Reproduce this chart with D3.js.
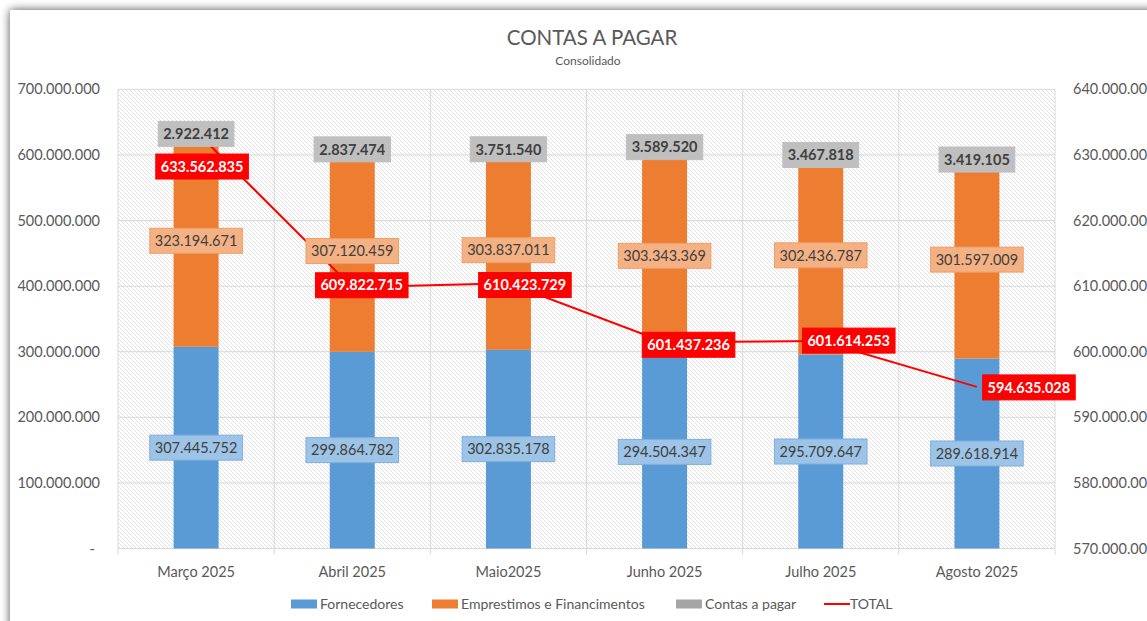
<!DOCTYPE html>
<html>
<head>
<meta charset="utf-8">
<script src="https://cdn.jsdelivr.net/npm/d3@7"></script>
<style>
  body { margin: 0; background: #fff; }
  text { font-family: Lato, "Open Sans", sans-serif; }
</style>
</head>
<body>
<script>

// dados
var categorias = ["Março 2025", "Abril 2025", "Maio2025", "Junho 2025", "Julho 2025", "Agosto 2025"];
var fornecedores = [307445752, 299864782, 302835178, 294504347, 295709647, 289618914];
var emprestimos = [323194671, 307120459, 303837011, 303343369, 302436787, 301597009];
var contasPagar = [2922412, 2837474, 3751540, 3589520, 3467818, 3419105];
var total = [633562835, 609822715, 610423729, 601437236, 601614253, 594635028];

var series = [
  { nome: "Fornecedores", valores: fornecedores, cor: "#5B9BD5", caixa: "#9DC3E6", borda: "#7FAEDC", bold: false },
  { nome: "Emprestimos e Financimentos", valores: emprestimos, cor: "#ED7D31", caixa: "#F4B183", borda: "#EE9E6C", bold: false },
  { nome: "Contas a pagar", valores: contasPagar, cor: "#A5A5A5", caixa: "#BFBFBF", borda: "#BFBFBF", bold: true }
];

// ajustes manuais dos rotulos (como no excel)
var totalLabelOffset = [[6, 35], [9.5, -2], [16.5, 1.7], [24, 2.5], [28, -0.5], [52, 0.5]];
var contasLabelDy = [0, 0, 0, -8, 0, 0];

var width = 1147,
    height = 621;
var pLeft = 118, pRight = 1055, pTop = 89.3, pBottom = 548.5;
var fs = 14.5;

var pt = d3.formatLocale({ decimal: ",", thousands: ".", grouping: [3], currency: ["R$", ""] });
var fmt = function(v) { return v === 0 ? "-" : pt.format(",d")(v); };

var svg = d3.select("body").append("svg")
    .attr("width", width)
    .attr("height", height);

var defs = svg.append("defs");
var filt = defs.append("filter").attr("id", "sombra")
    .attr("x", "-5%").attr("y", "-5%").attr("width", "110%").attr("height", "110%");
filt.append("feDropShadow").attr("dx", 0).attr("dy", 0)
    .attr("stdDeviation", 5).attr("flood-color", "#000").attr("flood-opacity", 0.7);

var pat = defs.append("pattern").attr("id", "hachura")
    .attr("patternUnits", "userSpaceOnUse")
    .attr("width", 4).attr("height", 4);
pat.append("rect").attr("width", 4).attr("height", 4).attr("fill", "#fff");
pat.append("path").attr("d", "M0,0L4,4M-1,3L1,5M3,-1L5,1")
    .attr("stroke", "#dcdcdc").attr("stroke-width", 0.8);

// cartao
svg.append("rect")
    .attr("x", 10).attr("y", 10)
    .attr("width", 1300).attr("height", 700)
    .attr("fill", "#fff")
    .attr("filter", "url(#sombra)");

// titulo
svg.append("text")
    .attr("x", 592).attr("y", 45)
    .attr("text-anchor", "middle")
    .attr("font-size", 20.5)
    .attr("fill", "#595959")
    .text("CONTAS A PAGAR");
svg.append("text")
    .attr("x", 588).attr("y", 65)
    .attr("text-anchor", "middle")
    .attr("font-size", 12)
    .attr("fill", "#595959")
    .text("Consolidado");

// escalas
var x = d3.scaleBand()
    .domain(categorias)
    .range([pLeft, pRight])
    .paddingInner(0.712)
    .paddingOuter(0.356);

var y = d3.scaleLinear().domain([0, 700000000]).range([pBottom, pTop]);
var y2 = d3.scaleLinear().domain([570000000, 640000000]).range([pBottom, pTop]);

// fundo da area de plotagem
svg.append("rect")
    .attr("x", pLeft).attr("y", pTop)
    .attr("width", pRight - pLeft).attr("height", pBottom - pTop)
    .attr("fill", "url(#hachura)");

// grade
svg.append("g").selectAll("line")
  .data(y.ticks(7))
  .enter().append("line")
    .attr("x1", pLeft).attr("x2", pRight)
    .attr("y1", function(d) { return y(d); })
    .attr("y2", function(d) { return y(d); })
    .attr("stroke", "#d9d9d9").attr("stroke-width", 1);

var bordas = categorias.map(function(c) { return x(c) - x.step() * x.paddingInner() / 2; });
bordas.push(pRight);
svg.append("g").selectAll("line")
  .data(bordas)
  .enter().append("line")
    .attr("x1", function(d) { return d; }).attr("x2", function(d) { return d; })
    .attr("y1", pTop).attr("y2", pBottom + 6)
    .attr("stroke", "#d9d9d9").attr("stroke-width", 1);

// eixos
var eixoY = svg.append("g")
    .attr("transform", "translate(" + pLeft + ",0)")
    .call(d3.axisLeft(y).ticks(7).tickFormat(fmt).tickSize(0).tickPadding(18));
eixoY.select(".domain").remove();
eixoY.selectAll("text").attr("font-size", fs).attr("fill", "#595959")
    .attr("font-family", "Lato, sans-serif")
    .attr("x", function(d) { return d === 0 ? -23 : -18; });

var eixoY2 = svg.append("g")
    .attr("transform", "translate(" + pRight + ",0)")
    .call(d3.axisRight(y2).ticks(7).tickFormat(fmt).tickSize(0).tickPadding(18));
eixoY2.select(".domain").remove();
eixoY2.selectAll("text").attr("font-size", fs).attr("fill", "#595959")
    .attr("font-family", "Lato, sans-serif");

var eixoX = svg.append("g")
    .attr("transform", "translate(0," + pBottom + ")")
    .call(d3.axisBottom(x).tickSize(0).tickPadding(18.5));
eixoX.select(".domain").attr("stroke", "#d9d9d9").attr("d", "M" + pLeft + ",0H" + pRight);
eixoX.selectAll("text").attr("font-size", fs).attr("fill", "#595959")
    .attr("font-family", "Lato, sans-serif");

// barras empilhadas
var linhas = categorias.map(function(c, i) {
  return { cat: c, f: fornecedores[i], e: emprestimos[i], c: contasPagar[i] };
});
var stack = d3.stack().keys(["f", "e", "c"])(linhas);

var camadas = svg.append("g").selectAll("g")
  .data(stack)
  .enter().append("g")
    .attr("fill", function(d, i) { return series[i].cor; });

camadas.selectAll("rect")
  .data(function(d) { return d; })
  .enter().append("rect")
    .attr("x", function(d) { return x(d.data.cat); })
    .attr("width", x.bandwidth())
    .attr("y", function(d) { return y(d[1]); })
    .attr("height", function(d) { return y(d[0]) - y(d[1]); });

// linha do total
var linha = d3.line()
    .x(function(d, i) { return x(categorias[i]) + x.bandwidth() / 2; })
    .y(function(d) { return y2(d); });

svg.append("path")
    .datum(total)
    .attr("d", linha)
    .attr("fill", "none")
    .attr("stroke", "#FF0000")
    .attr("stroke-width", 2);

// rotulos
function rotulo(g, cx, cy, texto, fundo, borda, cor, bold) {
  var t = g.append("text")
      .attr("x", cx).attr("y", cy)
      .attr("dy", "0.36em")
      .attr("text-anchor", "middle")
      .attr("font-size", fs)
      .attr("font-weight", bold ? "bold" : "normal")
      .attr("fill", cor)
      .text(texto);
  var bb = t.node().getBBox();
  g.insert("rect", "text")
      .attr("x", cx - bb.width / 2 - 5)
      .attr("y", cy - 12.5)
      .attr("width", bb.width + 10)
      .attr("height", 25)
      .attr("fill", fundo)
      .attr("stroke", borda)
      .attr("stroke-width", 1);
}

var gRot = svg.append("g");
stack.forEach(function(camada, k) {
  var s = series[k];
  camada.forEach(function(d, i) {
    var cx = x(d.data.cat) + x.bandwidth() / 2;
    var cy = (y(d[0]) + y(d[1])) / 2;
    if (k === 2) cy += contasLabelDy[i];
    rotulo(gRot.append("g"), cx, cy, fmt(d[1] - d[0]), s.caixa, s.borda, "#404040", s.bold);
  });
});

total.forEach(function(v, i) {
  var cx = x(categorias[i]) + x.bandwidth() / 2 + totalLabelOffset[i][0];
  var cy = y2(v) + totalLabelOffset[i][1];
  rotulo(gRot.append("g"), cx, cy, fmt(v), "#FF0000", "#FF0000", "#fff", true);
});

// legenda
var legenda = [
  { nome: "Fornecedores", cor: "#5B9BD5", x: 291, tipo: "rect" },
  { nome: "Emprestimos e Financimentos", cor: "#ED7D31", x: 432, tipo: "rect" },
  { nome: "Contas a pagar", cor: "#A5A5A5", x: 676, tipo: "rect" },
  { nome: "TOTAL", cor: "#FF0000", x: 824, tipo: "line" }
];

var leg = svg.append("g").selectAll("g")
  .data(legenda)
  .enter().append("g")
    .attr("transform", function(d) { return "translate(" + d.x + ",604)"; });

leg.filter(function(d) { return d.tipo === "rect"; })
  .append("rect")
    .attr("x", 0).attr("y", -4.5)
    .attr("width", 26).attr("height", 9)
    .attr("fill", function(d) { return d.cor; });

leg.filter(function(d) { return d.tipo === "line"; })
  .append("line")
    .attr("x1", 0).attr("x2", 26)
    .attr("stroke", function(d) { return d.cor; })
    .attr("stroke-width", 2);

leg.append("text")
    .attr("x", function(d) { return d.tipo === "line" ? 26 : 29; })
    .attr("dy", "0.36em")
    .attr("font-size", 14)
    .attr("fill", "#595959")
    .text(function(d) { return d.nome; });

</script>
</body>
</html>
